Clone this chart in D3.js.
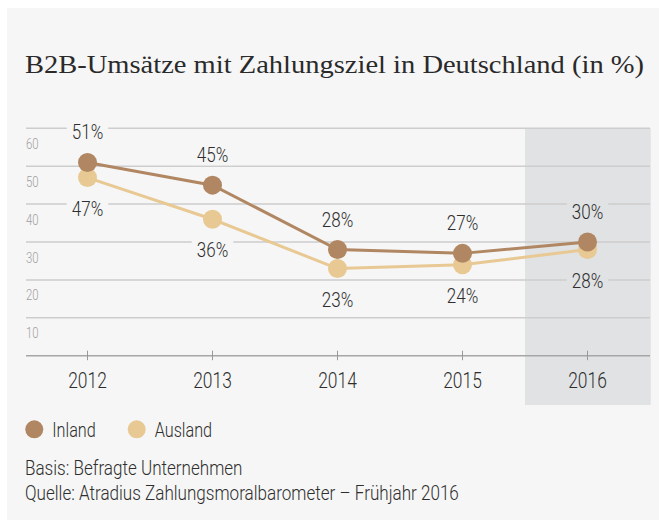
<!DOCTYPE html>
<html lang="de">
  <head>
    <meta charset="UTF-8" />
    <title>B2B-Umsätze mit Zahlungsziel</title>
    <script src="https://d3js.org/d3.v7.min.js"></script>
    <style>
      body {
        margin: 0;
        background: #fff;
      }
      svg {
        display: block;
      }
      .cond {
        font-family: Roboto, "Liberation Sans", sans-serif;
        font-weight: 300;
      }
    </style>
  </head>
  <body>
    <svg width="659" height="527"></svg>
    <script>
      // data
      const years = ["2012", "2013", "2014", "2015", "2016"];
      const inland = [51, 45, 28, 27, 30];
      const ausland = [47, 36, 23, 24, 28];
      const yTicks = [10, 20, 30, 40, 50, 60];
      const highlightYear = "2016";

      const colInland = "#b08762";
      const colAusland = "#e8c993";
      const panelBg = "#f6f6f6";
      const bandBg = "#e1e2e4";

      // no condensed font installed -> squeeze Roboto horizontally
      function condense(sel, k = 0.81) {
        sel.each(function () {
          const w = this.getComputedTextLength();
          d3.select(this)
            .attr("textLength", w * k)
            .attr("lengthAdjust", "spacingAndGlyphs");
        });
        return sel;
      }

      const svg = d3.select("svg");

      // panel
      svg.append("rect")
        .attr("x", 7).attr("y", 8)
        .attr("width", 652).attr("height", 512)
        .attr("fill", panelBg);

      // title
      svg.append("text")
        .attr("x", 25).attr("y", 73)
        .attr("font-family", "'Liberation Serif', 'DejaVu Serif', serif")
        .attr("font-size", 26)
        .attr("fill", "#2a2a2a")
        .attr("textLength", 619)
        .attr("lengthAdjust", "spacingAndGlyphs")
        .text("B2B-Umsätze mit Zahlungsziel in Deutschland (in %)");

      // scales
      const x = d3.scaleBand().domain(years).range([25, 650]).padding(0);
      const y = d3.scaleLinear().domain([0, 60]).range([355.7, 128.3]);
      const cx = (d) => x(d) + x.bandwidth() / 2;

      // highlighted year
      svg.append("rect")
        .attr("x", x(highlightYear))
        .attr("y", y(60))
        .attr("width", x.bandwidth() + 0.7)
        .attr("height", 405 - y(60))
        .attr("fill", bandBg);

      // gridlines + y labels
      const grid = svg.append("g");
      grid.selectAll("line")
        .data(yTicks)
        .join("line")
        .attr("x1", 26).attr("x2", 650)
        .attr("y1", (d) => y(d)).attr("y2", (d) => y(d))
        .attr("stroke", "#cdcdcd")
        .attr("stroke-width", 1.5);

      grid.selectAll("text")
        .data(yTicks)
        .join("text")
        .attr("class", "cond")
        .attr("x", 26)
        .attr("y", (d) => y(d) + 20.5)
        .attr("font-size", 14)
        .attr("fill", "#a0a0a0")
        .text((d) => d)
        .call(condense);

      // x axis
      const xAxis = svg.append("g");
      xAxis.append("line")
        .attr("x1", 26).attr("x2", 650)
        .attr("y1", y(0)).attr("y2", y(0))
        .attr("stroke", "#a6a6a6")
        .attr("stroke-width", 1.5);
      xAxis.selectAll(".tick")
        .data(years)
        .join("line")
        .attr("class", "tick")
        .attr("x1", cx).attr("x2", cx)
        .attr("y1", y(0) - 5).attr("y2", y(0) + 4.5)
        .attr("stroke", "#999")
        .attr("stroke-width", 1);
      xAxis.selectAll("text")
        .data(years)
        .join("text")
        .attr("class", "cond")
        .attr("x", cx)
        .attr("y", 388)
        .attr("text-anchor", "middle")
        .attr("font-size", 21.5)
        .attr("fill", "#2e2e2e")
        .text((d) => d)
        .call(condense);

      // value labels with knock-out background
      function addLabels(values, above) {
        const g = svg.append("g");
        values.forEach((v, i) => {
          const yr = years[i];
          const t = g.append("text")
            .attr("class", "cond")
            .attr("x", cx(yr))
            .attr("y", above ? y(v) - 23 : y(v) + 38)
            .attr("text-anchor", "middle")
            .attr("font-size", 21)
            .attr("fill", "#2e2e2e")
            .text(v + "%")
            .call(condense);
          const b = t.node().getBBox();
          g.insert("rect", () => t.node())
            .attr("x", b.x - 5)
            .attr("y", b.y + 2)
            .attr("width", b.width + 10)
            .attr("height", b.height - 4)
            .attr("fill", yr === highlightYear ? bandBg : panelBg);
        });
      }
      addLabels(inland, true);
      addLabels(ausland, false);

      // lines + dots
      const line = d3.line()
        .x((d, i) => cx(years[i]))
        .y((d) => y(d));

      [[ausland, colAusland], [inland, colInland]].forEach(([vals, col]) => {
        svg.append("path")
          .datum(vals)
          .attr("d", line)
          .attr("fill", "none")
          .attr("stroke", col)
          .attr("stroke-width", 3);
      });
      [[ausland, colAusland], [inland, colInland]].forEach(([vals, col]) => {
        svg.append("g")
          .selectAll("circle")
          .data(vals)
          .join("circle")
          .attr("cx", (d, i) => cx(years[i]))
          .attr("cy", (d) => y(d))
          .attr("r", 9.5)
          .attr("fill", col);
      });

      // legend
      const legend = [
        { name: "Inland", col: colInland, x: 34.3 },
        { name: "Ausland", col: colAusland, x: 136.7 },
      ];
      const lg = svg.append("g");
      legend.forEach((d) => {
        lg.append("circle")
          .attr("cx", d.x).attr("cy", 429.3)
          .attr("r", 9)
          .attr("fill", d.col);
        lg.append("text")
          .attr("class", "cond")
          .attr("x", d.x + 18)
          .attr("y", 436.7)
          .attr("font-size", 20)
          .attr("fill", "#2e2e2e")
          .text(d.name)
          .call(condense);
      });

      // notes
      const notes = [
        "Basis: Befragte Unternehmen",
        "Quelle: Atradius Zahlungsmoralbarometer – Frühjahr 2016",
      ];
      svg.append("g")
        .selectAll("text")
        .data(notes)
        .join("text")
        .attr("class", "cond")
        .attr("x", 25)
        .attr("y", (d, i) => 475 + i * 25)
        .attr("font-size", 19.5)
        .attr("fill", "#2e2e2e")
        .text((d) => d)
        .call((s) => condense(s, 0.875));
    </script>
  </body>
</html>
